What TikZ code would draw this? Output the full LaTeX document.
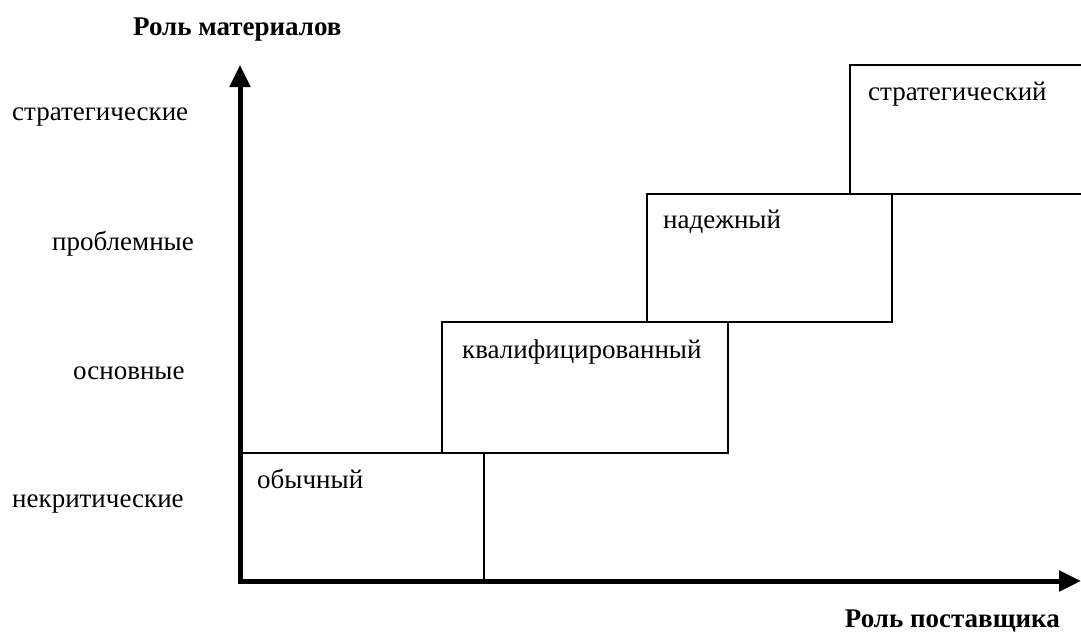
\documentclass[tikz,border=0pt]{standalone}
\usepackage{fontspec}
\setmainfont{Liberation Serif}
\usetikzlibrary{arrows.meta}
\begin{document}
\begin{tikzpicture}[x=1pt,y=-1pt,
  lab/.style={font=\fontsize{27}{29}\selectfont, inner sep=0pt, anchor=base west},
  title/.style={font=\bfseries\fontsize{27}{29}\selectfont, inner sep=0pt},
  stepbox/.style={draw, line width=1.5pt, inner sep=0pt, outer sep=0pt, anchor=north west},
  axis/.style={line width=5pt, -{Triangle[length=22pt,width=20pt]}}]
\useasboundingbox (0,0) rectangle (1081,635);
\clip (0,0) rectangle (1081,635);
% boxes
\node[stepbox, minimum width=244pt, minimum height=128pt] (b1) at (240,453) {};
\node[stepbox, minimum width=286pt, minimum height=131pt] (b2) at (442,322) {};
\node[stepbox, minimum width=245pt, minimum height=128pt] (b3) at (647,194) {};
\node[stepbox, minimum width=260pt, minimum height=129pt] (b4) at (850,65) {};
% box texts
\node[lab] (t1) at ([xshift=17pt,yshift=-35pt]b1.north west) {обычный};
\node[lab] (t2) at ([xshift=20pt,yshift=-36pt]b2.north west) {квалифицированный};
\node[lab] (t3) at ([xshift=16pt,yshift=-34pt]b3.north west) {надежный};
\node[lab] (t4) at ([xshift=18pt,yshift=-35pt]b4.north west) {стратегический};
% axes
\coordinate (o) at (240,581);
\coordinate (ytop) at (240,65);
\coordinate (xend) at (1081,581);
\draw[axis] ([yshift=-2.5pt]o) -- (ytop);
\draw[axis] ([xshift=-2.5pt]o) -- (xend);
% left labels
\node[lab] (l4) at (12,120) {стратегические};
\node[lab] (l3) at (52,250) {проблемные};
\node[lab] (l2) at (73,379) {основные};
\node[lab] (l1) at (12,507) {некритические};
% axis titles
\node[title, anchor=base west] (ty) at (133,35) {Роль материалов};
\node[title, anchor=base east] (tx) at (1060,627) {Роль поставщика};
\end{tikzpicture}
\end{document}
